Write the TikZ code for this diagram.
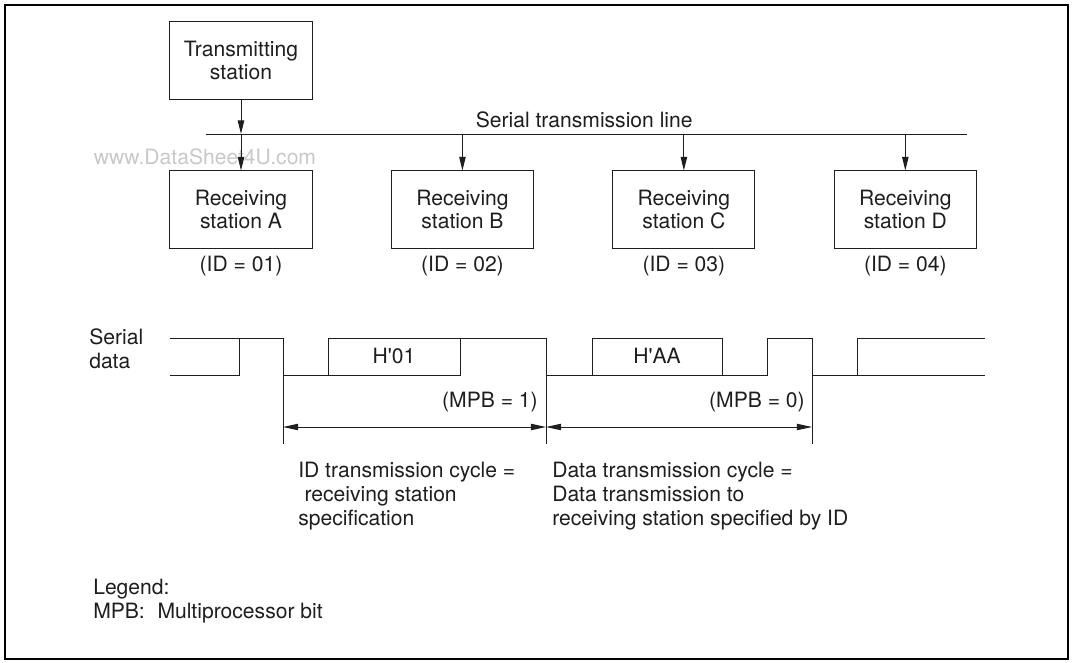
\documentclass[tikz,border=0pt]{standalone}
\usepackage{fontspec}
\setmainfont{TeX Gyre Heros}
\usepackage{tikz}
\usetikzlibrary{positioning,arrows.meta,calc}
\definecolor{inkline}{RGB}{30,30,30}
\definecolor{wmgray}{RGB}{200,200,200}
\tikzset{
  station/.style={rectangle,draw=inkline,line width=0.7pt,align=center,minimum width=3.55cm,minimum height=1.925cm,inner sep=2pt,font=\fontsize{15}{16.5}\selectfont},
  idlabel/.style={inner sep=2pt},
  txtblock/.style={align=left,inner sep=0pt},
  edge/.style={-{Triangle[length=3.4mm,width=1.6mm]},line width=0.7pt,draw=inkline},
  dimarrow/.style={{Triangle[length=3.8mm,width=1.6mm]}-{Triangle[length=3.8mm,width=1.6mm]},line width=0.7pt,draw=inkline},
  wave/.style={line width=0.7pt,draw=inkline},
  frame/.style={line width=1.7pt,draw=black}
}

\begin{document}
\begin{tikzpicture}[x=0.025cm,y=-0.025cm,every node/.style={font=\fontsize{15}{17}\selectfont,text=inkline}]
  \useasboundingbox (0,0) rectangle (1073,663);
  \draw[frame] (5,5) rectangle (1068,659);

  % stations and bus
  \node[station] (tx) at (241,60.5) {Transmitting\\station};
  \coordinate (busL) at (206,134);
  \coordinate (busR) at (967,134);
  \draw[wave] (busL) -- node[above=1pt,pos=0.497]{Serial transmission line} (busR);
  \node[text=wmgray] (wm) at (205,157) {www.DataSheet4U.com};
  \node[station] (rxa) at (241,209.5) {Receiving\\station A};
  \node[station,right=1.96cm of rxa] (rxb) {Receiving\\station B};
  \node[station,right=1.96cm of rxb] (rxc) {Receiving\\station C};
  \node[station,right=1.96cm of rxc] (rxd) {Receiving\\station D};
  \node[idlabel,below=0.12cm of rxa] (ida) {(ID = 01)};
  \node[idlabel,below=0.12cm of rxb] (idb) {(ID = 02)};
  \node[idlabel,below=0.12cm of rxc] (idc) {(ID = 03)};
  \node[idlabel,below=0.12cm of rxd] (idd) {(ID = 04)};
  \draw[edge] (tx) -- (tx |- busL);
  \foreach \rx in {rxa,rxb,rxc,rxd}
    \draw[edge] (\rx |- busL) -- (\rx);

  % serial data waveform
  \node[txtblock,anchor=west] (serial) at (89,349) {Serial\\data};
  \draw[wave] (170,338) -- (283,338) -- (283,375) -- (328,375) -- (328,338) -- (546,338)
    -- (546,375) -- (592,375) -- (592,338) -- (722,338) -- (722,375) -- (767,375)
    -- (767,338) -- (812,338) -- (812,375) -- (857,375) -- (857,338) -- (985,338);
  \draw[wave] (170,375) -- (239,375) -- (239,338);
  \draw[wave] (328,375) -- (460,375) -- (460,338);
  \draw[wave] (592,375) -- (722,375);
  \draw[wave] (857,375) -- (985,375);
  \node (hid) at (394,356) {H\textquotesingle 01};
  \node (hdata) at (657,356) {H\textquotesingle AA};

  % cycle dimensions
  \coordinate (c0) at (283,375);
  \coordinate (c1) at (546,375);
  \coordinate (c2) at (812,375);
  \foreach \c in {c0,c1,c2}
    \draw[wave] (\c) -- ++(0,69);
  \node[anchor=east,inner sep=0pt] (mpb1) at (538,402) {(MPB = 1)};
  \node[anchor=east,inner sep=0pt] (mpb0) at (805,402) {(MPB = 0)};
  \draw[dimarrow] ($(c0)+(0,52)$) -- ($(c1)+(0,52)$);
  \draw[dimarrow] ($(c1)+(0,52)$) -- ($(c2)+(0,52)$);
  \node[txtblock,anchor=north west] (idcyc) at (298,462) {ID transmission cycle =\\\hspace{0.3em}receiving station\\specification};
  \node[txtblock,anchor=north west] (datacyc) at (552,462) {Data transmission cycle =\\Data transmission to\\receiving station specified by ID};

  % legend
  \node[txtblock,anchor=north west] (legend) at (93,579) {Legend:\\MPB:\hspace{0.6em}Multiprocessor bit};
\end{tikzpicture}
\end{document}
